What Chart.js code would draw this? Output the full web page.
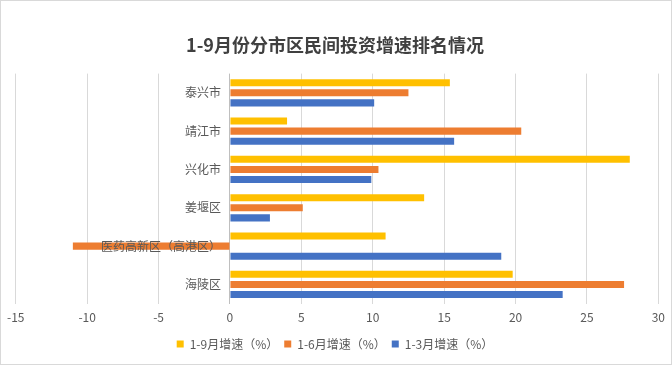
<!DOCTYPE html>
<html>
<head>
<meta charset="utf-8">
<script src="https://cdn.jsdelivr.net/npm/chart.js@4"></script>
<style>
  html, body { margin: 0; padding: 0; background: #fff; }
  #box { width: 670px; height: 363px; border: 1px solid #d9d9d9; position: relative; }
  #chart1 { position: absolute; left: -1px; top: -1px; }
</style>
</head>
<body>
<div id="box"><canvas id="chart1" width="672" height="365"></canvas></div>
<script>
// 分类（从上到下）
const regioes = ['泰兴市', '靖江市', '兴化市', '姜堰区', '医药高新区（高港区）', '海陵区'];
// 各期增速（%）
const cresc9 = [15.4, 4.0, 28.0, 13.6, 10.9, 19.8];
const cresc6 = [12.5, 20.4, 10.4, 5.1, -11.0, 27.6];
const cresc3 = [10.1, 15.7, 9.9, 2.8, 19.0, 23.3];
const nomesSeries = ['1-9月增速（%）', '1-6月增速（%）', '1-3月增速（%）'];
const tituloGrafico = '1-9月份分市区民间投资增速排名情况';

const fonte = '"Noto Sans CJK SC", "Noto Sans", sans-serif';

// 在0轴左侧绘制分类标签
const rotulosPlugin = {
    id: 'rotulos',
    afterDatasetsDraw(chart) {
        const ctx = chart.ctx;
        const x0 = chart.scales.x.getPixelForValue(0);
        const y = chart.scales.y;
        ctx.save();
        ctx.font = '12px ' + fonte;
        ctx.fillStyle = '#595959';
        ctx.textAlign = 'right';
        ctx.textBaseline = 'middle';
        regioes.forEach((r, i) => {
            ctx.fillText(r, x0 - 9, y.getPixelForTick(i));
        });
        ctx.restore();
    }
};

function createChart(chartId) {
    const ctx = document.getElementById(chartId).getContext('2d');
    new Chart(ctx, {
        type: 'bar',
        data: {
            labels: regioes,
            datasets: [
                { label: nomesSeries[0], data: cresc9, backgroundColor: '#FFC000' },
                { label: nomesSeries[1], data: cresc6, backgroundColor: '#ED7D31' },
                { label: nomesSeries[2], data: cresc3, backgroundColor: '#4472C4' }
            ]
        },
        options: {
            indexAxis: 'y',
            responsive: false,
            animation: false,
            categoryPercentage: 0.79,
            barPercentage: 0.7,
            layout: { padding: { left: 2, right: 4, bottom: 5 } },
            scales: {
                x: {
                    min: -15,
                    max: 30,
                    ticks: {
                        stepSize: 5,
                        color: '#595959',
                        font: { size: 12, family: fonte },
                        padding: 7
                    },
                    grid: {
                        drawTicks: false,
                        color: (c) => c.tick && c.tick.value === 0 ? '#bfbfbf' : '#d9d9d9'
                    },
                    border: { display: false }
                },
                y: { display: false }
            },
            plugins: {
                title: {
                    display: true,
                    text: tituloGrafico,
                    color: '#404040',
                    font: { size: 18, weight: 'bold', family: fonte },
                    padding: { top: 34, bottom: 18 }
                },
                legend: {
                    position: 'bottom',
                    labels: {
                        boxWidth: 7,
                        boxHeight: 7,
                        color: '#595959',
                        font: { size: 12, family: fonte },
                        padding: 6
                    }
                },
                tooltip: { enabled: false }
            }
        },
        plugins: [rotulosPlugin]
    });
}

window.onload = function () {
    createChart('chart1');
};
</script>
</body>
</html>
